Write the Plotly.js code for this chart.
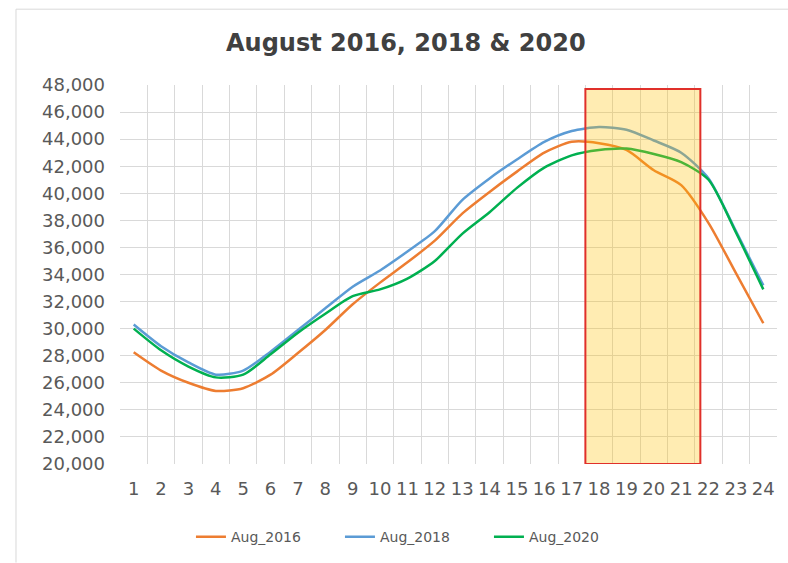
<!DOCTYPE html>
<html>
<head>
<meta charset="utf-8">
<script src="https://cdn.plot.ly/plotly-3.0.1.min.js"></script>
<style>html,body{margin:0;padding:0;background:#fff;}#chart{width:788px;height:563px;}</style>
</head>
<body>
<div id="chart"></div>
<script>
var hours = [1,2,3,4,5,6,7,8,9,10,11,12,13,14,15,16,17,18,19,20,21,22,23,24];
var aug2016 = [28250,26900,26000,25400,25600,26600,28200,29900,31800,33400,34900,36500,38500,40100,41600,43000,43800,43700,43200,41700,40600,37800,34100,30400];
var aug2018 = [30300,28700,27500,26600,26900,28300,29900,31500,33100,34300,35700,37200,39500,41100,42500,43800,44600,44900,44700,43900,43000,41100,37200,33200];
var aug2020 = [30000,28400,27200,26400,26600,28100,29700,31100,32400,32900,33700,35000,37000,38600,40400,41900,42800,43200,43300,42900,42300,41000,37100,32900];
var seriesNames = ["Aug_2016","Aug_2018","Aug_2020"];
var yTicks = [20000,22000,24000,26000,28000,30000,32000,34000,36000,38000,40000,42000,44000,46000,48000];
var yTickText = yTicks.map(function(v){return v.toLocaleString('en-US');});

function tr(y, name, color){
  return {x: hours, y: y, name: name, type: 'scatter', mode: 'lines',
    line: {color: color, width: 2.5, shape: 'spline', smoothing: 0.7}, hoverinfo: 'skip'};
}
var data = [
  tr(aug2016, seriesNames[0], '#ED7D31'),
  tr(aug2018, seriesNames[1], '#5B9BD5'),
  tr(aug2020, seriesNames[2], '#00B050')
];
var fontFam = 'DejaVu Sans, Liberation Sans, Arial, sans-serif';
var layout = {
  width: 788, height: 563,
  margin: {l: 120, r: 11, t: 85, b: 98},
  paper_bgcolor: '#ffffff', plot_bgcolor: '#ffffff',
  showlegend: true,
  title: {text: '<b>August 2016, 2018 & 2020</b>', font: {family: fontFam, size: 24, color: '#404040'},
    xref: 'container', yref: 'container', x: 0.515, xanchor: 'center', y: 0.925, yanchor: 'middle'},
  xaxis: {range: [0.5, 24.5], tickmode: 'array', tickvals: hours, ticktext: hours.map(String),
    showgrid: false, zeroline: false, showline: false, ticks: '', ticklabelstandoff: 12,
    tickfont: {family: fontFam, size: 18, color: '#595959'},
    minor: {tick0: 0.5, dtick: 1, showgrid: true, gridcolor: '#D9D9D9', gridwidth: 1, ticks: ''},
    fixedrange: true},
  yaxis: {range: [20000, 48000], tickmode: 'array', tickvals: yTicks, ticktext: yTickText,
    showgrid: true, gridcolor: '#D9D9D9', gridwidth: 1, zeroline: false, showline: false, ticks: '',
    ticklabelstandoff: 14, tickfont: {family: fontFam, size: 18, color: '#595959'}, fixedrange: true},
  legend: {orientation: 'h', x: 0.108, xanchor: 'left', y: -0.19, yanchor: 'middle',
    font: {family: fontFam, size: 14, color: '#595959'}, entrywidth: 104, entrywidthmode: 'pixels',
    bgcolor: 'rgba(0,0,0,0)'},
  shapes: [
    {type: 'rect', xref: 'x', yref: 'y', x0: 17.5, x1: 21.7, y0: 20000, y1: 47700,
     layer: 'above', fillcolor: 'rgba(255,192,0,0.3)', line: {color: '#E0302A', width: 2}},
    {type: 'line', xref: 'paper', yref: 'paper', x0: -0.1583, x1: 1.02, y0: 1.2, y1: 1.2,
     line: {color: '#D9D9D9', width: 1}},
    {type: 'line', xref: 'paper', yref: 'paper', x0: -0.1583, x1: -0.1583, y0: 1.2, y1: -0.26,
     line: {color: '#D9D9D9', width: 1}}
  ]
};
Plotly.newPlot('chart', data, layout, {staticPlot: true, displayModeBar: false});
</script>
</body>
</html>
